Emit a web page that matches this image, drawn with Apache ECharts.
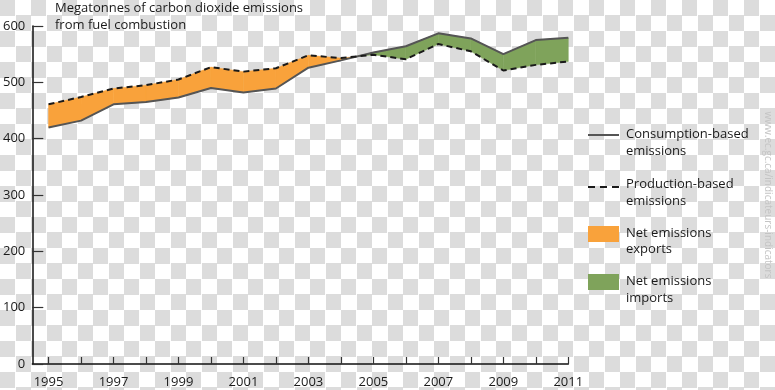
<!DOCTYPE html>
<html>
<head>
<meta charset="utf-8">
<script src="https://cdn.jsdelivr.net/npm/echarts@6/dist/echarts.min.js"></script>
<style>
html,body{margin:0;padding:0;}
body{width:775px;height:390px;background:repeating-conic-gradient(#ffffff 0 25%, #dcdcdc 0 50%) 0 0/31px 31px;}
#chart{width:775px;height:390px;}
</style>
</head>
<body>
<div id="chart"></div>
<script>
// ---- data ----
const years = [1995,1996,1997,1998,1999,2000,2001,2002,2003,2004,2005,2006,2007,2008,2009,2010,2011];
const consumption = [420,432,461,465,473,490,482,489,526,539,553,564,587,578,550,575,579];
const production  = [461,474,489,495,505,527,519,525,548,543,549,541,568,555,521,531,537];
const yTicks = [0,100,200,300,400,500,600];
const xTickYears = [1995,1996,1997,1998,1999,2000,2001,2002,2003,2004,2005,2006,2007,2008,2009,2010,2011];
const xLabelYears = [1995,1997,1999,2001,2003,2005,2007,2009,2011];
const titleText = 'Megatonnes of carbon dioxide emissions\nfrom fuel combustion';
const legendNames = ['Consumption-based\nemissions','Production-based\nemissions','Net emissions\nexports','Net emissions\nimports'];
const watermark = 'www.ec.gc.ca/indicateurs-indicators';

const ORANGE = '#f9a23b';
const GREEN = '#7fa35b';
const FONT = '"Open Sans", "Noto Sans", sans-serif';
const TXT = '#1a1a1a';

// band renderer: sign=+1 -> production above consumption (exports), -1 -> imports
function bandRender(sign, color) {
  return function (params, api) {
    const i = api.value(1);
    const x0 = years[i], x1 = years[i + 1];
    const c0 = consumption[i], c1 = consumption[i + 1];
    const p0 = production[i], p1 = production[i + 1];
    const d0 = sign * (p0 - c0), d1 = sign * (p1 - c1);
    let pts;
    if (d0 >= 0 && d1 >= 0) {
      pts = [[x0, c0], [x1, c1], [x1, p1], [x0, p0]];
    } else if (d0 > 0 && d1 < 0) {
      const t = d0 / (d0 - d1);
      pts = [[x0, c0], [x0 + t * (x1 - x0), c0 + t * (c1 - c0)], [x0, p0]];
    } else if (d0 < 0 && d1 > 0) {
      const t = d0 / (d0 - d1);
      pts = [[x0 + t * (x1 - x0), c0 + t * (c1 - c0)], [x1, c1], [x1, p1]];
    } else {
      return null;
    }
    return {
      type: 'polygon',
      shape: { points: pts.map(p => api.coord(p)) },
      style: { fill: color, stroke: color, lineWidth: 0.5 }
    };
  };
}

const segData = years.slice(0, -1).map((y, i) => [y, i]);

const chart = echarts.init(document.getElementById('chart'), null, { renderer: 'canvas' });
const axisColor = '#111';
chart.setOption({
  backgroundColor: 'transparent',
  animation: false,
  title: {
    text: titleText,
    left: 50, top: -5,
    textStyle: { fontFamily: FONT, fontSize: 13, fontWeight: 'normal', color: TXT, lineHeight: 17 }
  },
  grid: { left: 32, right: 206.7, top: 26, bottom: 26 },
  xAxis: {
    type: 'value', min: 1994.5, max: 2011,
    splitLine: { show: false },
    axisLine: { show: true, onZero: false, lineStyle: { color: axisColor, width: 1.5 } },
    axisTick: { show: true, inside: true, length: 7, customValues: xTickYears, lineStyle: { color: '#333', width: 1.2 } },
    axisLabel: { customValues: xLabelYears, margin: 12, fontFamily: FONT, fontSize: 13, color: TXT, formatter: v => String(v) }
  },
  yAxis: {
    type: 'value', min: 0, max: 600, interval: 100,
    splitLine: { show: false },
    axisLine: { show: true, lineStyle: { color: axisColor, width: 1.5 } },
    axisTick: { show: true, inside: true, length: 11, lineStyle: { color: '#333', width: 1.2 } },
    axisLabel: { margin: 7, fontFamily: FONT, fontSize: 13, color: TXT }
  },
  series: [
    { name: legendNames[2], type: 'custom', renderItem: bandRender(1, ORANGE), data: segData, z: 1, silent: true },
    { name: legendNames[3], type: 'custom', renderItem: bandRender(-1, GREEN), data: segData, z: 1, silent: true },
    { name: legendNames[0], type: 'line', data: years.map((y, i) => [y, consumption[i]]), symbol: 'none',
      lineStyle: { color: '#555', width: 2 }, z: 3 },
    { name: legendNames[1], type: 'line', data: years.map((y, i) => [y, production[i]]), symbol: 'none',
      lineStyle: { color: '#1a1a1a', width: 2, type: [6, 4] }, z: 3 }
  ],
  graphic: [
    { type: 'line', shape: { x1: 588, y1: 135, x2: 619, y2: 135 }, style: { stroke: '#555', lineWidth: 2 } },
    { type: 'text', x: 626, y: 143, style: { text: legendNames[0], font: '13px ' + FONT, fill: TXT, lineHeight: 17, verticalAlign: 'middle' } },
    { type: 'line', shape: { x1: 588, y1: 187, x2: 621, y2: 187 }, style: { stroke: '#1a1a1a', lineWidth: 2, lineDash: [7, 5] } },
    { type: 'text', x: 626, y: 193, style: { text: legendNames[1], font: '13px ' + FONT, fill: TXT, lineHeight: 16.5, verticalAlign: 'middle' } },
    { type: 'rect', shape: { x: 588, y: 226, width: 31, height: 16 }, style: { fill: ORANGE } },
    { type: 'text', x: 626, y: 241.5, style: { text: legendNames[2], font: '13px ' + FONT, fill: TXT, lineHeight: 16.5, verticalAlign: 'middle' } },
    { type: 'rect', shape: { x: 588, y: 274, width: 31, height: 16 }, style: { fill: GREEN } },
    { type: 'text', x: 626, y: 290, style: { text: legendNames[3], font: '13px ' + FONT, fill: TXT, lineHeight: 16.5, verticalAlign: 'middle' } },
    { type: 'text', x: 768, y: 195, rotation: -Math.PI / 2,
      style: { text: watermark, font: '10px ' + FONT, fill: '#c4c4c4', align: 'center', verticalAlign: 'middle' } }
  ]
});
</script>
</body>
</html>
